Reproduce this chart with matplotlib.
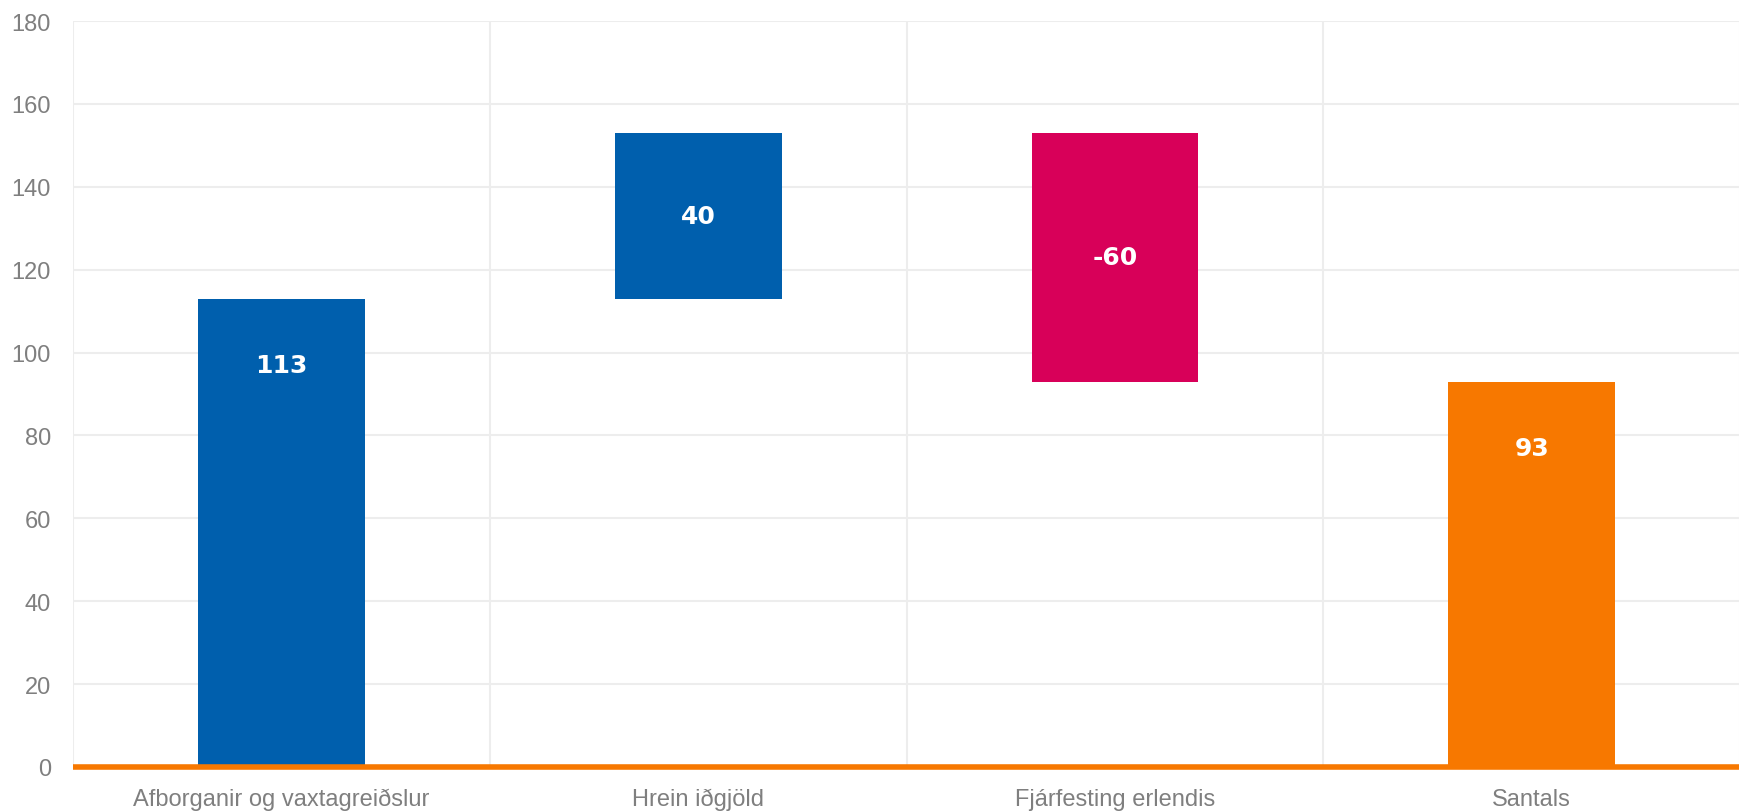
import numpy as np
import matplotlib.pyplot as plt

categories = ["Afborganir og vaxtagreiðslur", "Hrein iðgjöld", "Fjárfesting erlendis", "Santals"]
changes = [113, 40, -60]
total = sum(changes)

blue = "#005fad"
pink = "#d80059"
orange = "#f77800"

# waterfall: running sums give the bottoms of the floating bars
starts = np.concatenate([[0], np.cumsum(changes)[:-1]])
ends = np.cumsum(changes)
bottoms = list(np.minimum(starts, ends)) + [0]
heights = [abs(c) for c in changes] + [total]
colors = [blue if c >= 0 else pink for c in changes] + [orange]
labels = [str(c) for c in changes] + [str(total)]
floating = [s != 0 for s in starts] + [False]

fig = plt.figure(figsize=(17.4, 8.12), dpi=100)
ax = fig.add_axes([0.042, 0.0542, 0.958, 0.9187])

x = np.arange(len(categories))
bars = ax.bar(x, heights, bottom=bottoms, width=0.4, color=colors, zorder=3)

for b, lab, fl in zip(bars, labels, floating):
    cx = b.get_x() + b.get_width() / 2
    if fl:
        ax.text(cx, b.get_y() + b.get_height() / 2, lab, ha="center", va="center",
                color="white", fontsize=18, fontweight="bold", family="DejaVu Sans", zorder=4)
    else:
        ax.annotate(lab, (cx, b.get_y() + b.get_height()), xytext=(0, -48),
                    textcoords="offset points", ha="center", va="center",
                    color="white", fontsize=18, fontweight="bold", family="DejaVu Sans", zorder=4)

ax.set_xlim(-0.5, len(categories) - 0.5)
ax.set_ylim(0, 180)
ax.set_yticks(np.arange(0, 181, 20))
ax.set_xticks(x)
ax.set_xticklabels(categories)
ax.set_xticks(np.arange(-0.5, len(categories), 1), minor=True)

ax.grid(axis="y", color="#ededed", lw=1.5, zorder=0)
ax.grid(axis="x", which="minor", color="#ededed", lw=1.5, zorder=0)
ax.grid(axis="x", which="major", visible=False)

for s in ax.spines.values():
    s.set_visible(False)
ax.axhline(0, color=orange, lw=4, zorder=5, clip_on=False, solid_capstyle="butt")

ax.tick_params(axis="both", which="both", length=0, labelsize=17, labelcolor="#7f7f7f",
               labelfontfamily="Liberation Sans")
ax.tick_params(axis="y", pad=16)
ax.tick_params(axis="x", pad=15)

fig.savefig("out.png", dpi=100)
